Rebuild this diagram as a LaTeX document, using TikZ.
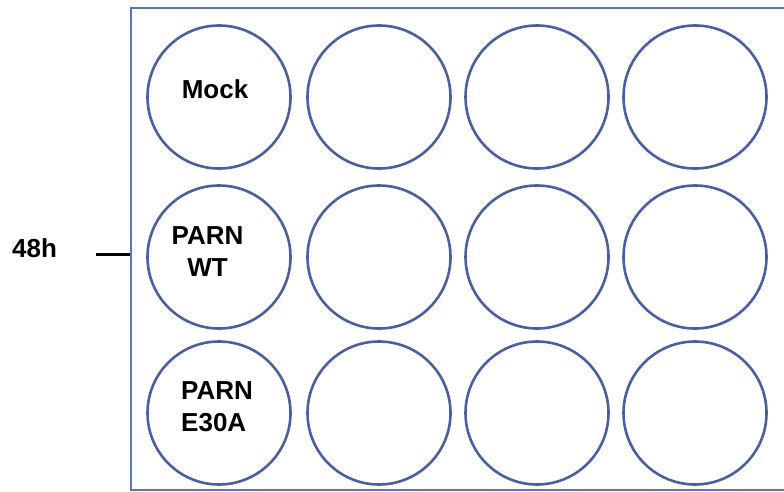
\documentclass[tikz,border=0pt]{standalone}
\usepackage{fontspec}
\setmainfont{Liberation Sans}
\usepackage{xcolor}
\usetikzlibrary{positioning, calc}
\definecolor{wellblue}{HTML}{4B5E9E}
\definecolor{plateblue}{HTML}{5A78B0}

\begin{document}
\begin{tikzpicture}[
    x=1pt, y=-1pt,
    plate/.style={rectangle, draw=plateblue, line width=2pt, minimum width=709pt, minimum height=482pt, inner sep=0pt},
    well/.style={circle, draw=wellblue, line width=2.6pt, minimum size=143pt, inner sep=0pt},
    % labels inside the wells
    lbl/.style={font=\fontsize{26}{32}\selectfont\bfseries, inner sep=0pt},
    tick/.style={line width=3pt, black}
]
\useasboundingbox (0,0) rectangle (784,492);

% plate outline (right edge runs off the page)
\node[plate] (plate) at (485.5,249) {};

% 3 x 4 wells
\foreach \r/\y in {1/97,2/257,3/413} {
    \foreach \c/\x in {1/219,2/379,3/537,4/695} {
        \node[well] (w\r\c) at (\x,\y) {};
    }
}

% well labels
\node[lbl, anchor=base] (mock) at (215,99) {Mock};
\node[lbl, align=center] (wt) at (207.5,252) {PARN\\WT};
\node[lbl, align=left, anchor=west] (mut) at (181,407) {PARN\\E30A};

% time point
\node[lbl, anchor=base west] (time) at (12,257) {48h};
\coordinate (tickL) at (96,254);
\draw[tick] (tickL) -- (tickL -| plate.west);

\end{tikzpicture}
\end{document}
